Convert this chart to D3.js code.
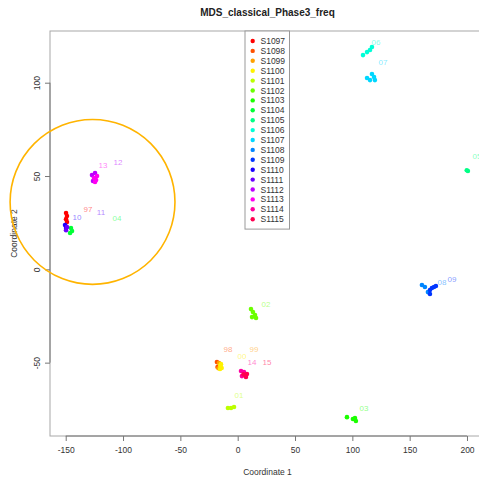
<!DOCTYPE html>
<html>
<head>
<meta charset="utf-8">
<script src="https://cdn.jsdelivr.net/npm/d3@7/dist/d3.min.js"></script>
<style>
html,body{margin:0;padding:0;background:#fff;}
svg{display:block;font-family:"Liberation Sans",Arial,Helvetica,sans-serif;}
</style>
</head>
<body>
<svg id="chart" width="479" height="479"></svg>
<script>
// ---- data ----
const sampleNames = ["S1097","S1098","S1099","S1100","S1101","S1102","S1103","S1104","S1105","S1106",
  "S1107","S1108","S1109","S1110","S1111","S1112","S1113","S1114","S1115"];
const sampleColors = ["#FF0000","#FF5100","#FFA100","#FFF200","#BCFF00","#6BFF00","#1BFF00","#00FF36","#00FF86","#00FFD7",
  "#00D7FF","#0086FF","#0036FF","#1B00FF","#6B00FF","#BC00FF","#FF00F2","#FF00A1","#FF0051"];
// points: sample index, coordinate 1, coordinate 2
const pointSample = [0,0,0,0, 1,1, 2,2, 3,3,3,3, 4,4,4, 5,5,5,5,5, 6,6,6,6, 7,7,7, 8,8, 9,9,9,9,
  10,10,10,10,10, 11,11,11, 12,12,12,12,12, 13,13, 14,14, 15,15,15, 16,16,16,16, 17,17,17, 18,18,18];
const pointX = [-149.7,-148.9,-149.7,-148.9, -18.1,-17.6, -16.3,-16.8, -14.6,-14.0,-15.4,-15.2, -8.5,-5.8,-3.2,
  11.6,13.3,15.1,12.5,16.0, 95.3,100.5,103.1,102.3, -145.4,-144.5,-146.2, 200.8,199.8,
  109.3,112.8,115.4,117.1, 112.8,117.1,118.9,119.7,115.4, 160.7,163.3,165.9, 167.7,169.4,171.2,172.9,167.7,
  -150.6,-149.7, -148.9,-149.7, -127.1,-124.4,-126.2, -122.7,-125.3,-123.5,-124.4, 2.9,5.5,3.7, 8.1,7.2,5.0];
const pointY = [30.2,28.6,26.9,25.3, -49.7,-52.3, -50.2,-53.0, -50.8,-52.9,-53.4,-51.6, -74.3,-74.3,-73.8,
  -21.3,-22.9,-24.5,-25.6,-26.1, -79.2,-80.2,-81.3,-79.7, 22.1,20.5,19.5, 52.7,53.1,
  114.8,116.4,117.5,119.1, 102.5,104.7,103.0,101.4,101.4, -8.4,-9.5,-12.2, -11.1,-10.0,-9.5,-8.9,-13.2,
  23.7,22.1, 22.6,21.0, 50.5,51.6,47.3, 50.0,48.9,47.9,46.8, -54.5,-55.0,-57.2, -56.1,-57.7,-56.3];
// text labels
const labelText = ["97","98","99","00","01","02","03","04","05","06","07","08","09","10","11","12","13","14","15"];
const labelX = [-130.5,-8.5,14.2,3.8,1.1,24.7,110.1,-105.3,208.7,120.6,126.7,178.2,186.9,-140.1,-119.2,-104.4,-117.5,12.5,25.6];
const labelY = [32.3,-43.2,-43.2,-46.5,-67.4,-18.6,-74.3,27.5,60.2,121.8,110.6,-7.3,-5.2,28.0,30.2,57.0,55.4,-49.7,-49.7];
const xTicks = [-150,-100,-50,0,50,100,150,200];
const yTicks = [-50,0,50,100];
const xLim = [-163.7, 215.7];
const yLim = [-89.3, 127.7];
// highlight circle (centre in data units, radius in coordinate-1 units)
const circleCenter = [-126.6, 36.1];
const circleRadius = 71.9;

const titleText = "MDS_classical_Phase3_freq";
const xTitle = "Coordinate 1";
const yTitle = "Coordinate 2";

// ---- layout ----
const L = 50, R = 485, T = 31, B = 436;
const svg = d3.select("#chart");
const x = d3.scaleLinear().domain(xLim).range([L, R]);
const y = d3.scaleLinear().domain(yLim).range([B, T]);

// title
svg.append("text").attr("x", (L+R)/2).attr("y", 15.5).attr("text-anchor","middle")
  .attr("font-size", 10).attr("font-weight","bold").attr("fill","#222").text(titleText);

// box
svg.append("rect").attr("x", L).attr("y", T).attr("width", R-L).attr("height", B-T)
  .attr("fill","none").attr("stroke","#a8a8a8").attr("stroke-width",1);

// x axis
const gx = svg.append("g").attr("transform", `translate(0,${B})`)
  .call(d3.axisBottom(x).tickValues(xTicks).tickSize(5).tickPadding(6).tickFormat(d3.format("d")));
gx.select(".domain").attr("d", `M${x(xTicks[0])},0H${x(xTicks[xTicks.length-1])}`).attr("stroke","#777");
gx.selectAll(".tick line").attr("stroke","#777");
gx.selectAll("text").attr("font-size",8.5).attr("fill","#333").attr("font-family","Liberation Sans, Arial, sans-serif")
  .text(d => String(d));

// y axis
const gy = svg.append("g").attr("transform", `translate(${L},0)`)
  .call(d3.axisLeft(y).tickValues(yTicks).tickSize(5).tickFormat(d3.format("d")));
gy.select(".domain").attr("d", `M0,${y(yTicks[0])}V${y(yTicks[yTicks.length-1])}`).attr("stroke","#777");
gy.selectAll(".tick line").attr("stroke","#777");
gy.selectAll(".tick text").attr("font-size",8.5).attr("fill","#333").attr("font-family","Liberation Sans, Arial, sans-serif")
  .attr("x",null).attr("dy",null).attr("text-anchor","middle")
  .attr("transform","translate(-13,0) rotate(-90)").attr("dominant-baseline","central")
  .text(d => String(d));

// axis titles
svg.append("text").attr("x",(L+R)/2).attr("y",474.5).attr("text-anchor","middle")
  .attr("font-size",8.5).attr("fill","#333").text(xTitle);
svg.append("text").attr("transform",`translate(17,${(T+B)/2}) rotate(-90)`).attr("text-anchor","middle")
  .attr("font-size",8.5).attr("fill","#333").text(yTitle);

// points
const plot = svg.append("g");
plot.selectAll("circle.pt").data(pointX.map((v,i)=>i)).join("circle").attr("class","pt")
  .attr("cx", i => x(pointX[i])).attr("cy", i => y(pointY[i])).attr("r", 2.3)
  .attr("fill", i => sampleColors[pointSample[i]]);

// labels
plot.selectAll("text.lab").data(labelText.map((v,i)=>i)).join("text").attr("class","lab")
  .attr("x", i => x(labelX[i])).attr("y", i => y(labelY[i])).attr("text-anchor","middle")
  .attr("dominant-baseline","central").attr("font-size",8)
  .attr("fill", i => sampleColors[i]).attr("fill-opacity",0.5).text(i => labelText[i]);

// circle
svg.append("circle").attr("cx", x(circleCenter[0])).attr("cy", y(circleCenter[1]))
  .attr("r", x(circleCenter[0]+circleRadius) - x(circleCenter[0]))
  .attr("fill","none").attr("stroke","#FFB400").attr("stroke-width",1.6);

// legend
const lg = svg.append("g");
const lgTop = T, lgLeft = 245, lgW = 44.5, rowH = 9.9;
lg.append("rect").attr("x", lgLeft).attr("y", lgTop).attr("width", lgW)
  .attr("height", rowH*sampleNames.length + 10).attr("fill","#fff").attr("stroke","#999").attr("stroke-width",1);
const rows = lg.selectAll("g.row").data(sampleNames).join("g").attr("class","row")
  .attr("transform",(d,i)=>`translate(0,${lgTop + 10 + i*rowH})`);
rows.append("circle").attr("cx", lgLeft+7.7).attr("cy",0).attr("r",2.2).attr("fill",(d,i)=>sampleColors[i]);
rows.append("text").attr("x", lgLeft+15.5).attr("y",0).attr("dominant-baseline","central")
  .attr("font-size",8.5).attr("fill","#333").text(d=>d);
</script>
</body>
</html>
